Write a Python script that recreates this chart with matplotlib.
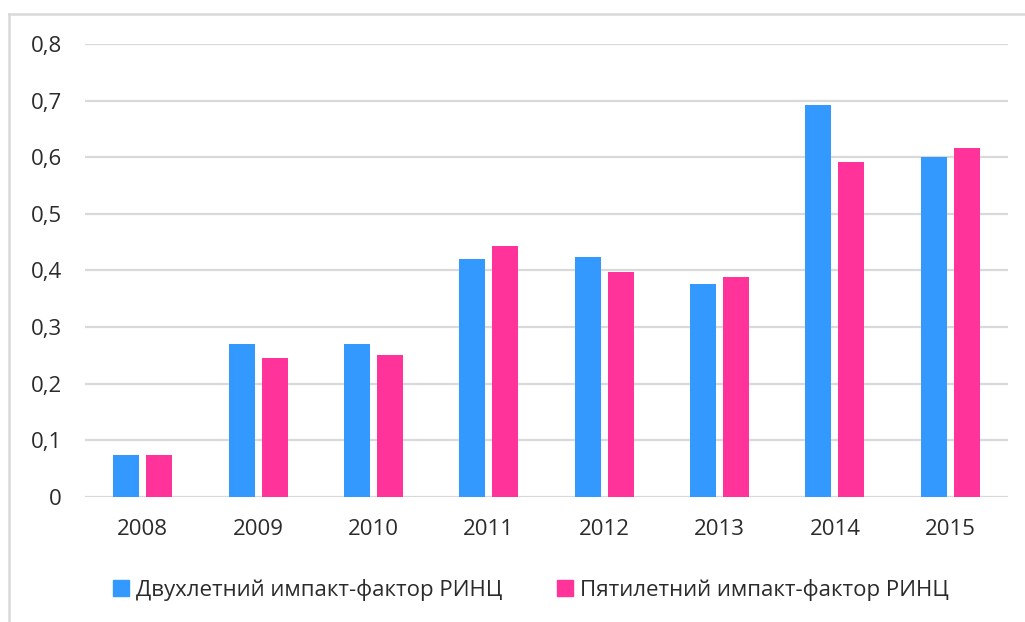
import numpy as np
import matplotlib.pyplot as plt
from matplotlib.patches import Patch
from matplotlib.lines import Line2D

years = ["2008", "2009", "2010", "2011", "2012", "2013", "2014", "2015"]
two_year = [0.075, 0.27, 0.27, 0.42, 0.424, 0.377, 0.693, 0.601]
five_year = [0.075, 0.245, 0.25, 0.443, 0.397, 0.388, 0.592, 0.616]
series_names = ["Двухлетний импакт-фактор РИНЦ", "Пятилетний импакт-фактор РИНЦ"]
yticks = [0, 0.1, 0.2, 0.3, 0.4, 0.5, 0.6, 0.7, 0.8]
ytick_labels = ["0", "0,1", "0,2", "0,3", "0,4", "0,5", "0,6", "0,7", "0,8"]

blue = "#3399FF"
pink = "#FF3399"
grid_c = "#D9D9D9"
text_c = "#2B2B2B"

plt.rcParams["font.family"] = ["Open Sans", "DejaVu Sans"]

fig = plt.figure(figsize=(10.25, 6.22), dpi=100)
ax = fig.add_axes([0.0829, 0.201, 0.9005, 0.7283])

x = np.arange(len(years))
w = 0.225
off = 0.143
ax.bar(x - off, two_year, w, color=blue, zorder=3)
ax.bar(x + off, five_year, w, color=pink, zorder=3)

ax.set_xlim(-0.5, 7.5)
ax.set_ylim(0, 0.8)
ax.set_yticks(yticks)
ax.set_yticklabels(ytick_labels)
ax.set_xticks(x)
ax.set_xticklabels(years)
ax.yaxis.grid(True, color=grid_c, linewidth=1.6, zorder=0)
ax.set_axisbelow(True)
for s in ax.spines.values():
    s.set_visible(False)
ax.tick_params(axis="both", length=0, labelsize=16, colors=text_c)
ax.tick_params(axis="y", pad=16.5)
ax.tick_params(axis="x", pad=16)

# outer chart frame (cropped on the right and bottom)
fig.add_artist(Line2D([0.0088, 0.0088], [0.0, 0.977], transform=fig.transFigure,
                      color=grid_c, linewidth=1.8))
fig.add_artist(Line2D([0.0088, 1.0], [0.977, 0.977], transform=fig.transFigure,
                      color=grid_c, linewidth=1.8))

handles = [Patch(color=blue), Patch(color=pink)]
fig.legend(handles, series_names, loc="center", bbox_to_anchor=(0.518, 0.052),
           ncol=2, frameon=False, fontsize=16, handlelength=0.68, handleheight=0.68,
           handletextpad=0.32, columnspacing=2.5, labelcolor=text_c)

fig.savefig("out.png", dpi=100)
